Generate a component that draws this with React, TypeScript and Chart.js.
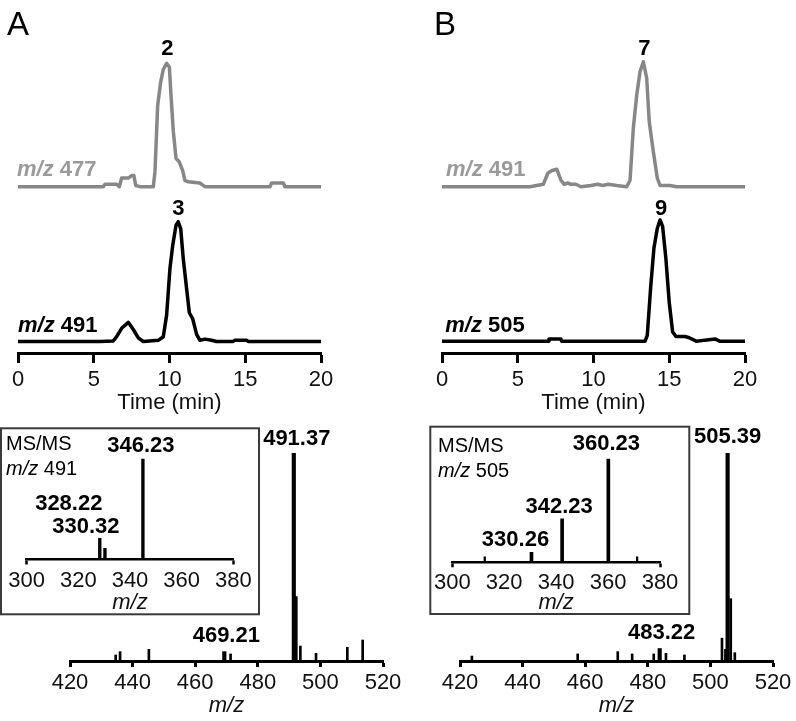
import React, { useEffect, useRef } from 'react';
import { Chart, registerables } from 'chart.js';

Chart.register(...registerables);

const FONT = '"Liberation Sans", Arial, Helvetica, sans-serif';
const W = 796;
const H = 721;
const GRAY = '#878787';
const TXT = '#111';

// ---------- Chromatograms (time in min, relative intensity %) ----------
const timeTicks = [0, 5, 10, 15, 20];

const timeA477 = [0, 5.63, 5.74, 6.51, 6.69, 6.84, 7.28, 7.5, 7.65, 7.77, 8.05, 8.93, 9.04, 9.22, 9.42, 9.59, 9.81, 9.99, 10.1, 10.25, 10.43, 10.65, 10.87, 11.02, 11.24, 12.0, 12.34, 16.63, 16.74, 17.51, 17.62, 20];
const intA477 = [0, 0, 2, 2, 0, 7, 7, 9, 9, 1, 0, 0, 12, 66, 85, 95, 100, 97, 74, 45, 23, 20, 13, 5, 4, 3, 0, 0, 3, 3, 0, 0];

const timeA491 = [0, 5.41, 6.29, 6.51, 6.84, 7.28, 7.61, 7.94, 8.27, 9.26, 9.59, 9.81, 10.03, 10.21, 10.43, 10.58, 10.74, 10.91, 11.13, 11.31, 11.53, 11.79, 12.01, 12.34, 12.78, 13.1, 14.2, 14.3, 15.1, 15.2, 20];
const intA491 = [0, 0, 0.5, 4, 11, 16, 10, 3, 0, 1, 4, 22, 61, 80, 97, 100, 94, 69, 44, 24, 19, 6, 1, 2, 1, 0, 0, 1, 1, 0, 0];

const timeB491 = [0, 5.8, 6.69, 6.99, 7.27, 7.58, 7.86, 8.07, 8.29, 8.51, 8.84, 9.17, 9.83, 10.27, 10.6, 10.98, 11.53, 12.19, 12.41, 12.63, 12.85, 13.07, 13.29, 13.51, 13.68, 13.95, 14.21, 14.39, 15.05, 15.49, 20];
const intB491 = [0, 0, 2, 11, 13, 14, 5, 2, 3, 2, 2, 0, 1, 2, 1, 2, 1, 0, 5, 47, 73, 92, 100, 87, 52, 28, 7, 1, 1, 0, 0];

const timeB505 = [0, 7.0, 7.06, 7.85, 7.9, 13.4, 13.55, 13.77, 13.99, 14.21, 14.39, 14.56, 14.78, 15.0, 15.22, 15.44, 16.04, 16.32, 16.81, 17.36, 18.02, 18.35, 20];
const intB505 = [0, 0, 2, 2, 0, 0, 5, 44, 77, 93, 100, 95, 68, 32, 8, 4, 4, 3, 0, 1, 2, 0, 0];

// ---------- Mass spectra (m/z, relative abundance %) ----------
const msTicks = [420, 440, 460, 480, 500, 520];
const msmsTicks = [300, 320, 340, 360, 380];

const msA_majorMz = [491.5, 469.3];
const msA_majorInt = [100, 4.5];
const msA_minorMz = [434.6, 436.0, 445.2, 471.3, 492.3, 493.6, 498.6, 508.6, 513.5];
const msA_minorInt = [2.9, 4.5, 5.6, 3.4, 31, 7.2, 3.7, 6.6, 10.1];

const msmsA_Mz = [345.0, 328.3, 330.3];
const msmsA_Int = [100, 21, 11];

const msB_majorMz = [505.5, 483.8];
const msB_majorInt = [100, 6];
const msB_minorMz = [423.8, 457.6, 470.4, 475.0, 481.9, 485.8, 491.7, 503.7, 504.8, 506.5, 507.8];
const msB_minorInt = [2.4, 3.4, 4.5, 3.4, 3.4, 3.7, 2.9, 11, 5.6, 30, 4];

const msmsB_majorMz = [360.1, 342.3, 330.5];
const msmsB_majorInt = [100, 42, 9.7];
const msmsB_minorMz = [312.5, 371.2];
const msmsB_minorInt = [5.4, 5.4];

// ---------- Text annotations ----------
type Part = { t: string; italic?: boolean };
type Note = {
  parts: Part[];
  x?: number; y?: number; axis?: string;
  px?: number; py?: number;
  dx?: number; dy?: number;
  align?: 'left' | 'center';
  size: number; bold?: boolean; color?: string;
};

const mz = (rest: string): Part[] => [{ t: 'm/z', italic: true }, { t: rest }];

const notesChromA: Note[] = [
  { parts: [{ t: 'A' }], px: 7, py: 35, size: 33 },
  { parts: [{ t: '2' }], x: 9.86, y: 100, axis: 'yTop', dy: -8.3, align: 'center', size: 22, bold: true },
  { parts: [{ t: '3' }], x: 10.58, y: 100, axis: 'yBot', dy: -6.7, align: 'center', size: 22, bold: true },
  { parts: mz(' 477'), x: 0, y: 0, axis: 'yTop', dx: -1, dy: -10.7, size: 22, bold: true, color: '#9a9a9a' },
  { parts: mz(' 491'), x: 0, y: 0, axis: 'yBot', dx: 0, dy: -9.8, size: 22, bold: true },
];
const notesChromB: Note[] = [
  { parts: [{ t: 'B' }], px: 434, py: 35, size: 33 },
  { parts: [{ t: '7' }], x: 13.29, y: 100, axis: 'yTop', dx: 1, dy: -6.7, align: 'center', size: 22, bold: true },
  { parts: [{ t: '9' }], x: 14.39, y: 100, axis: 'yBot', dx: 1, dy: -5, align: 'center', size: 22, bold: true },
  { parts: mz(' 491'), x: 0, y: 0, axis: 'yTop', dx: 4, dy: -10.7, size: 22, bold: true, color: '#9a9a9a' },
  { parts: mz(' 505'), x: 0, y: 0, axis: 'yBot', dx: 3.3, dy: -9.6, size: 22, bold: true },
];
const notesMsA: Note[] = [
  { parts: [{ t: '491.37' }], x: 491.5, y: 100, dx: 3, dy: -8, align: 'center', size: 22, bold: true },
  { parts: [{ t: '469.21' }], x: 469.3, y: 4.5, dx: 2, dy: -10, align: 'center', size: 22, bold: true },
];
const notesMsB: Note[] = [
  { parts: [{ t: '505.39' }], x: 505.5, y: 100, dx: 0, dy: -10, align: 'center', size: 22, bold: true },
  { parts: [{ t: '483.22' }], x: 483.8, y: 6, dx: 2, dy: -10, align: 'center', size: 22, bold: true },
];
const notesMsmsA: Note[] = [
  { parts: [{ t: 'MS/MS' }], px: 6, py: 450, size: 20 },
  { parts: mz(' 491'), px: 6, py: 475, size: 20 },
  { parts: [{ t: '346.23' }], x: 345.0, y: 100, dx: -2, dy: -7, align: 'center', size: 22, bold: true },
  { parts: [{ t: '328.22' }], x: 328.3, y: 21, dx: -31, dy: -28, align: 'center', size: 22, bold: true },
  { parts: [{ t: '330.32' }], x: 330.3, y: 11, dx: -19, dy: -15, align: 'center', size: 22, bold: true },
];
const notesMsmsB: Note[] = [
  { parts: [{ t: 'MS/MS' }], px: 438, py: 451.5, size: 20 },
  { parts: mz(' 505'), px: 438, py: 476.5, size: 20 },
  { parts: [{ t: '360.23' }], x: 360.1, y: 100, dx: -2, dy: -9, align: 'center', size: 22, bold: true },
  { parts: [{ t: '342.23' }], x: 342.3, y: 42, dx: -3, dy: -6, align: 'center', size: 22, bold: true },
  { parts: [{ t: '330.26' }], x: 330.5, y: 9.7, dx: -16, dy: -6, align: 'center', size: 22, bold: true },
];

const notesPlugin = (notes: Note[], box?: number[]) => ({
  id: 'notes',
  beforeDraw(chart: any) {
    if (!box) return;
    const ctx = chart.ctx;
    ctx.save();
    ctx.fillStyle = '#fff';
    ctx.fillRect(box[0], box[1], box[2] - box[0], box[3] - box[1]);
    ctx.strokeStyle = '#3a3a3a';
    ctx.lineWidth = 2;
    ctx.strokeRect(box[0], box[1], box[2] - box[0], box[3] - box[1]);
    ctx.restore();
  },
  afterDraw(chart: any) {
    const ctx = chart.ctx;
    ctx.save();
    ctx.textBaseline = 'alphabetic';
    ctx.textAlign = 'left';
    for (const n of notes) {
      let ax: number, ay: number;
      if (n.x !== undefined) {
        ax = chart.scales.x.getPixelForValue(n.x);
        ay = chart.scales[n.axis || 'y'].getPixelForValue(n.y);
      } else {
        ax = n.px as number;
        ay = n.py as number;
      }
      ax += n.dx || 0;
      ay += n.dy || 0;
      const fonts = n.parts.map((p) => `${p.italic ? 'italic ' : ''}${n.bold ? 'bold ' : ''}${n.size}px ${FONT}`);
      let total = 0;
      const widths = n.parts.map((p, i) => {
        ctx.font = fonts[i];
        const w = ctx.measureText(p.t).width;
        total += w;
        return w;
      });
      let cx = n.align === 'center' ? ax - total / 2 : ax;
      n.parts.forEach((p, i) => {
        ctx.font = fonts[i];
        ctx.fillStyle = n.color || '#000';
        ctx.fillText(p.t, cx, ay);
        cx += widths[i];
      });
    }
    ctx.restore();
  },
});

const pts = (xs: number[], ys: number[]) => xs.map((x, i) => ({ x, y: ys[i] }));

const xAxis = (o: {
  min: number; max: number; ticks: number[]; tickLength: number; tickPad: number;
  height: number; title: string; italic?: boolean; endTicksOnly?: boolean; borderWidth: number;
}) => ({
  type: 'linear',
  min: o.min,
  max: o.max,
  offset: false,
  afterBuildTicks: (s: any) => { s.ticks = o.ticks.map((v) => ({ value: v })); },
  ticks: { font: { family: FONT, size: 22 }, color: TXT, padding: o.tickPad, maxRotation: 0, autoSkip: false },
  grid: {
    display: true,
    offset: false,
    drawOnChartArea: false,
    drawTicks: true,
    tickLength: o.tickLength,
    tickWidth: o.borderWidth,
    tickColor: o.endTicksOnly
      ? (c: any) => (c.index === 0 || c.index === o.ticks.length - 1 ? '#000' : 'rgba(0,0,0,0)')
      : '#000',
  },
  border: { display: true, color: '#000', width: o.borderWidth },
  title: {
    display: true,
    text: o.title,
    color: TXT,
    padding: 0,
    font: { family: FONT, size: 22, style: o.italic ? 'italic' : 'normal' },
  },
  afterFit: (s: any) => { s.height = o.height; },
});

const baseOpts = (padding: any) => ({
  animation: false,
  responsive: false,
  devicePixelRatio: 1,
  events: [],
  layout: { padding },
  plugins: { legend: { display: false }, tooltip: { enabled: false }, title: { display: false } },
});

const chromConfig = (
  tTop: number[], iTop: number[], tBot: number[], iBot: number[],
  padding: any, topRange: number[], botRange: number[], notes: Note[]
): any => ({
  type: 'line',
  data: {
    datasets: [
      { data: pts(tTop, iTop), yAxisID: 'yTop', borderColor: GRAY, borderWidth: 3.5, pointRadius: 0, tension: 0, clip: false, borderJoinStyle: 'round' },
      { data: pts(tBot, iBot), yAxisID: 'yBot', borderColor: '#000', borderWidth: 3.5, pointRadius: 0, tension: 0, clip: false, borderJoinStyle: 'round' },
    ],
  },
  options: {
    ...baseOpts(padding),
    scales: {
      x: xAxis({ min: 0, max: 20, ticks: timeTicks, tickLength: 10, tickPad: 4, height: 63.2, title: 'Time (min)', borderWidth: 3 }),
      yTop: { display: false, min: topRange[0], max: topRange[1] },
      yBot: { display: false, min: botRange[0], max: botRange[1] },
    },
  },
  plugins: [notesPlugin(notes)],
});

const barSet = (xs: number[], ys: number[], thick: number) => ({
  data: pts(xs, ys),
  backgroundColor: '#000',
  borderWidth: 0,
  barThickness: thick,
  grouped: false,
});

const msConfig = (
  sets: any[], padding: any, xr: number[], ticks: number[], yMax: number,
  axisH: number, tickLength: number, tickPad: number, notes: Note[], endTicksOnly: boolean, box?: number[]
): any => ({
  type: 'bar',
  data: { datasets: sets },
  options: {
    ...baseOpts(padding),
    scales: {
      x: xAxis({ min: xr[0], max: xr[1], ticks, tickLength, tickPad, height: axisH, title: 'm/z', italic: true, endTicksOnly, borderWidth: endTicksOnly ? 2.5 : 3 }),
      y: { display: false, min: 0, max: yMax },
    },
  },
  plugins: [notesPlugin(notes, box)],
});

export default function App() {
  const canvases = useRef<(HTMLCanvasElement | null)[]>([]);

  useEffect(() => {
    const configs = [
      chromConfig(timeA477, intA477, timeA491, intA491,
        { left: 18, right: 475, top: 30, bottom: 304.8 }, [-134.8, 127.0], [-9.6, 260.0], notesChromA),
      chromConfig(timeB491, intB491, timeB505, intB505,
        { left: 442, right: 51, top: 30, bottom: 304.8 }, [-133.0, 125.4], [-9.6, 256.6], notesChromB),
      msConfig([barSet(msA_majorMz, msA_majorInt, 3.5), barSet(msA_minorMz, msA_minorInt, 2)],
        { left: 70, right: 413, top: 430, bottom: 2.4 }, [420, 520], msTicks, 111.2, 57.6, 6, 3, notesMsA, false),
      msConfig([barSet(msB_majorMz, msB_majorInt, 3.5), barSet(msB_minorMz, msB_minorInt, 2)],
        { left: 460, right: 23, top: 430, bottom: 2.4 }, [420, 520], msTicks, 111.2, 57.6, 6, 3, notesMsB, false),
      msConfig([barSet(msmsA_Mz, msmsA_Int, 2.7)],
        { left: 26.7, right: 562.7, top: 440, bottom: 105.4 }, [300, 380], msmsTicks, 118.9, 56.1, 5, 3, notesMsmsA, true,
        [1, 428.3, 259, 614.3]),
      msConfig([barSet(msmsB_majorMz, msmsB_majorInt, 3), barSet(msmsB_minorMz, msmsB_minorInt, 1.6)],
        { left: 452.3, right: 136, top: 440, bottom: 105.4 }, [300, 380], msmsTicks, 118.4, 53.3, 5, 2, notesMsmsB, true,
        [430.3, 426.7, 689.3, 614]),
    ];
    const charts = configs.map((cfg, i) => new Chart(canvases.current[i] as HTMLCanvasElement, cfg));
    return () => charts.forEach((c) => c.destroy());
  }, []);

  return (
    <div style={{ position: 'absolute', left: 0, top: 0, width: W, height: H, background: '#fff', overflow: 'hidden' }}>
      {[0, 1, 2, 3, 4, 5].map((i) => (
        <canvas
          key={i}
          ref={(el) => { canvases.current[i] = el; }}
          width={W}
          height={H}
          style={{ position: 'absolute', left: 0, top: 0, width: W, height: H }}
        />
      ))}
    </div>
  );
}
